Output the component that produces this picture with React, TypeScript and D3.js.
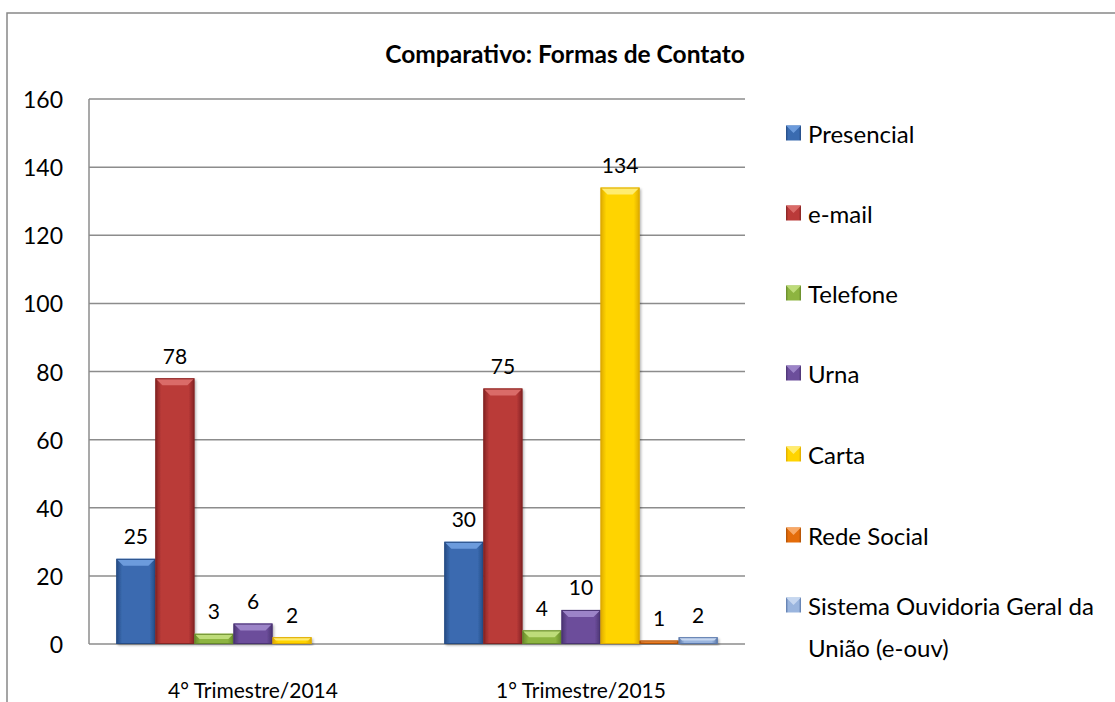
import React from "react";
import * as d3 from "d3";

const categories = ["4° Trimestre/2014", "1° Trimestre/2015"];
const seriesNames = [
  "Presencial",
  "e-mail",
  "Telefone",
  "Urna",
  "Carta",
  "Rede Social",
  "Sistema Ouvidoria Geral da União (e-ouv)",
];
const legendLines = [
  ["Presencial"],
  ["e-mail"],
  ["Telefone"],
  ["Urna"],
  ["Carta"],
  ["Rede Social"],
  ["Sistema Ouvidoria Geral da", "União (e-ouv)"],
];
const presencial = [25, 30];
const email = [78, 75];
const telefone = [3, 4];
const urna = [6, 10];
const carta = [2, 134];
const redeSocial = [null, 1];
const sistema = [null, 2];
const seriesValues: (number | null)[][] = [presencial, email, telefone, urna, carta, redeSocial, sistema];
const yTicks = [0, 20, 40, 60, 80, 100, 120, 140, 160];

// [mid, edge, top]
const palette = [
  ["#3A6BB0", "#254B84", "#6C9BDC"],
  ["#BA3A39", "#842423", "#DA6B68"],
  ["#8DB440", "#66892A", "#BEDC7A"],
  ["#6C4E9B", "#4A3372", "#9C84C8"],
  ["#FFD400", "#DDAA00", "#FFEC70"],
  ["#E46C0A", "#AC5006", "#F8A866"],
  ["#9AB5DE", "#5A78AA", "#C6D7F0"],
];

const FONT = "Lato, 'Open Sans', 'DejaVu Sans', sans-serif";

export default function App() {
  const W = 1115, H = 702;
  const left = 89, right = 745, top = 99, bottom = 644;
  const y = d3.scaleLinear().domain([0, 160]).range([bottom, top]);
  const x0 = d3.scaleBand().domain(categories).range([left, right]).paddingInner(0).paddingOuter(0);
  const groupW = x0.bandwidth();
  const barW = groupW / 8.4;
  const x1 = d3
    .scaleBand()
    .domain(seriesNames)
    .range([(groupW - barW * 7) / 2, (groupW + barW * 7) / 2])
    .padding(0);

  const bars: any[] = [];
  categories.forEach((c, ci) => {
    seriesNames.forEach((s, si) => {
      const v = seriesValues[si][ci];
      if (v == null) return;
      const bx = (x0(c) as number) + (x1(s) as number);
      const by = y(v);
      const bh = bottom - by;
      bars.push({ bx, by, bh, v, si, key: `${ci}-${si}` });
    });
  });

  return (
    <svg
      width={W}
      height={H}
      style={{ position: "absolute", left: 0, top: 0, background: "#fff" }}
      fontFamily={FONT}
    >
      <defs>
        {palette.map((p, i) => (
          <linearGradient key={i} id={`g${i}`} x1="0" x2="1" y1="0" y2="0">
            <stop offset="0" stopColor={p[1]} />
            <stop offset="0.15" stopColor={p[0]} />
            <stop offset="0.85" stopColor={p[0]} />
            <stop offset="1" stopColor={p[1]} />
          </linearGradient>
        ))}
        <filter id="sh" x="-10%" y="-10%" width="130%" height="130%">
          <feDropShadow dx="1.5" dy="1.5" stdDeviation="1.2" floodColor="#000" floodOpacity="0.3" />
        </filter>
      </defs>
      <rect x={7} y={13} width={1120} height={700} fill="#fff" stroke="#888" strokeWidth={1.5} />
      <text x={565} y={53} textAnchor="middle" dominantBaseline="central" fontWeight="bold" fontSize={24.5}>
        Comparativo: Formas de Contato
      </text>
      {yTicks.map((t) => (
        <g key={t}>
          <line x1={left} x2={right} y1={y(t)} y2={y(t)} stroke="#8c8c8c" strokeWidth={1.5} />
          <text x={63} y={y(t)} textAnchor="end" dominantBaseline="central" fontSize={23}>
            {t}
          </text>
        </g>
      ))}
      <line x1={left} x2={left} y1={top} y2={bottom} stroke="#8c8c8c" strokeWidth={1.5} />
      {bars.map((b) => {
        const p = palette[b.si];
        const bev = Math.min(7, b.bh / 2, barW / 4);
        return (
          <g key={b.key}>
            <rect x={b.bx} y={b.by} width={barW} height={b.bh} fill={`url(#g${b.si})`} filter="url(#sh)" />
            <polygon
              points={`${b.bx},${b.by} ${b.bx + barW},${b.by} ${b.bx + barW - bev},${b.by + bev} ${b.bx + bev},${b.by + bev}`}
              fill={p[2]}
            />
            <rect x={b.bx + 0.5} y={b.by + 0.5} width={barW - 1} height={Math.max(0, b.bh - 1)} fill="none" stroke={p[1]} strokeWidth={1} />
          </g>
        );
      })}
      {bars.map((b) => (
        <text
          key={`l${b.key}`}
          x={b.bx + barW / 2}
          y={b.by - 23}
          textAnchor="middle"
          dominantBaseline="central"
          fontSize={21}
        >
          {b.v}
        </text>
      ))}
      {categories.map((c) => (
        <text
          key={c}
          x={(x0(c) as number) + groupW / 2}
          y={689}
          textAnchor="middle"
          dominantBaseline="central"
          fontSize={21}
        >
          {c}
        </text>
      ))}
      {legendLines.map((lines, i) => {
        const cy = [133, 213, 293, 373, 454, 535, 605][i];
        const p = palette[i];
        return (
          <g key={i}>
            <rect x={786} y={cy - 7.5} width={15} height={15} fill={`url(#g${i})`} />
            <polygon points={`${786},${cy - 7.5} ${801},${cy - 7.5} ${793.5},${cy}`} fill={p[2]} />
            {lines.map((ln, li) => (
              <text key={li} x={808} y={cy + li * 42} dominantBaseline="central" fontSize={24}>
                {ln}
              </text>
            ))}
          </g>
        );
      })}
    </svg>
  );
}
